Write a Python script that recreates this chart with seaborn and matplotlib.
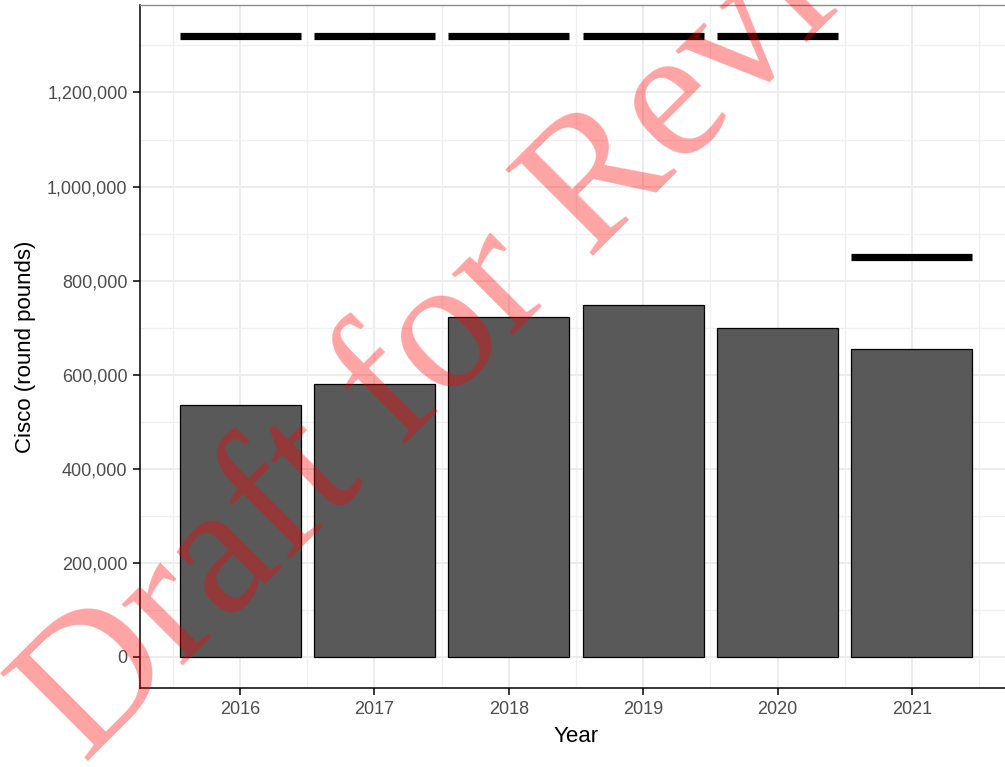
import matplotlib
matplotlib.use("Agg")
import matplotlib.pyplot as plt
import seaborn as sns
import pandas as pd
import numpy as np
from matplotlib.ticker import FuncFormatter, MultipleLocator

# data
years = [2016, 2017, 2018, 2019, 2020, 2021]
landings = [536000, 581000, 723000, 748000, 700000, 655000]
limits = [1320000, 1320000, 1320000, 1320000, 1320000, 850000]
y_ticks = [0, 200000, 400000, 600000, 800000, 1000000, 1200000]

df = pd.DataFrame({"Year": years, "Landings": landings, "Limit": limits})

sns.set_style("ticks")
plt.rcParams["font.family"] = ["Liberation Sans", "DejaVu Sans"]

W, H = 1005, 767
fig = plt.figure(figsize=(W / 100, H / 100), dpi=100)
# panel runs past the right edge in the reference (cropped)
ax = fig.add_axes([140 / W, 1 - 688 / H, 872 / W, 683 / H])

sns.barplot(data=df, x="Year", y="Landings", native_scale=True, width=0.9,
            color="#595959", saturation=1, edgecolor="black", linewidth=0.9,
            ax=ax, zorder=2)

# limit lines over each bar
ax.hlines(df["Limit"], df["Year"] - 0.45, df["Year"] + 0.45,
          colors="black", linewidth=5.2, zorder=3, capstyle="butt")

ax.set_xlim(2015.255, 2021.745)
ax.set_ylim(-66000, 1386000)
ax.set_xticks(years)
ax.set_xticklabels([str(y) for y in years])
ax.set_yticks(y_ticks)
ax.yaxis.set_major_formatter(FuncFormatter(lambda v, p: f"{int(v):,}"))
ax.xaxis.set_minor_locator(MultipleLocator(0.5))
ax.yaxis.set_minor_locator(MultipleLocator(100000))

ax.grid(which="major", color="#EBEBEB", linewidth=1.3, zorder=0)
ax.grid(which="minor", color="#F0F0F0", linewidth=1.0, zorder=0)
ax.set_axisbelow(True)

ax.tick_params(axis="both", which="major", direction="out", length=5,
               width=1.1, color="black", labelsize=13, labelcolor="#4D4D4D", pad=4)
ax.tick_params(axis="both", which="minor", length=0)

for side in ["left", "bottom"]:
    ax.spines[side].set_color("black")
    ax.spines[side].set_linewidth(1.1)
for side in ["top", "right"]:
    ax.spines[side].set_visible(True)
    ax.spines[side].set_color("#8a8a8a")
    ax.spines[side].set_linewidth(1.0)

ax.set_xlabel("Year", fontsize=16, color="black", labelpad=6)
ax.set_ylabel("Cisco (round pounds)", fontsize=16, color="black", labelpad=8)

# watermark
fig.text(85 / W, 1 - 765 / H, "Draft for Review", rotation=45,
         rotation_mode="anchor", ha="left", va="baseline",
         family=["Liberation Serif", "DejaVu Serif"], fontsize=136,
         color="red", alpha=0.36, zorder=10)

fig.savefig("out.png", dpi=100)
